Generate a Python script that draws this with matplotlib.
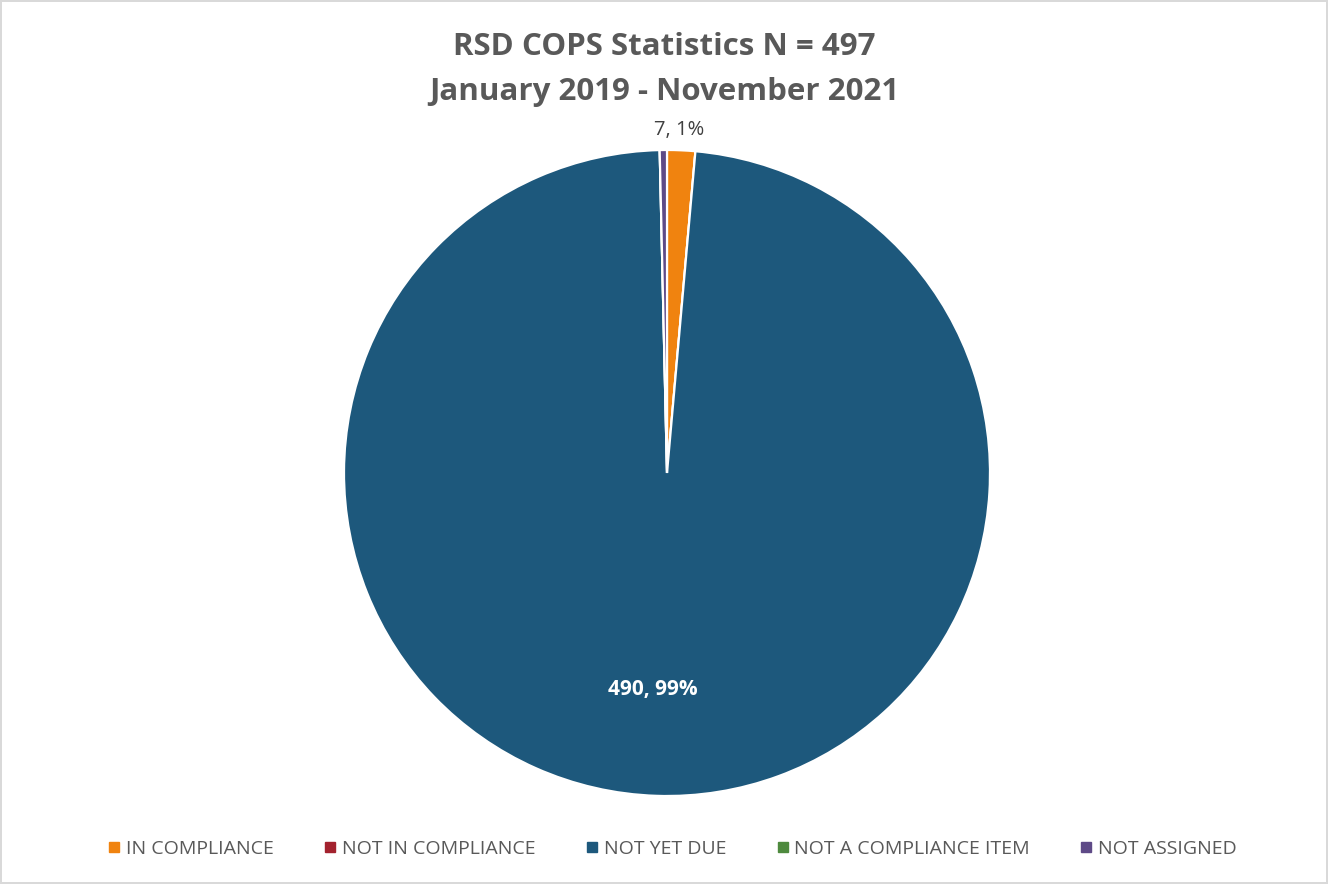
import numpy as np
import matplotlib.pyplot as plt
from matplotlib.lines import Line2D

# data
categories = ["IN COMPLIANCE", "NOT IN COMPLIANCE", "NOT YET DUE",
              "NOT A COMPLIANCE ITEM", "NOT ASSIGNED"]
counts = [7, 0, 490, 0, 1.8]
total_n = 497
shown_labels = [True, False, True, False, False]
colors = ["#F0830F", "#A3222E", "#1D587C", "#4E8A3E", "#5E4A87"]

plt.rcParams["font.family"] = ["Open Sans", "DejaVu Sans"]

fig = plt.figure(figsize=(13.28, 8.84), dpi=100)
fig.patch.set_edgecolor("#D9D9D9")
fig.patch.set_linewidth(1.5)

# pie axes: centre ~(667, 473) px, radius ~323 px
cx, cy, r = 667 / 1328, 1 - 473 / 884, 323
ax = fig.add_axes([cx - r / 1328, cy - r / 884, 2 * r / 1328, 2 * r / 884])

wedges, _ = ax.pie(
    counts,
    colors=colors,
    startangle=90,
    counterclock=False,
    radius=1.0,
    wedgeprops=dict(edgecolor="white", linewidth=1.6),
)
for w in wedges:
    w.set_clip_on(False)
ax.set_xlim(-1, 1)
ax.set_ylim(-1, 1)
ax.set_aspect("auto")
ax.axis("off")

# data labels
for i, (v, show) in enumerate(zip(counts, shown_labels)):
    if not show:
        continue
    pct = round(v / total_n * 100)
    txt = f"{v}, {pct}%"
    if categories[i] == "NOT YET DUE":
        ax.text(-0.045, -0.67, txt, ha="center", va="center",
                fontsize=15, fontweight="bold", color="white")
    else:
        fig.text(679 / 1328, 1 - 130 / 884, txt, ha="center", va="center",
                 fontsize=14.5, color="#404040")

fig.text(0.5, 1 - 47 / 884, "RSD COPS Statistics N = 497",
         ha="center", va="center", fontsize=22.5, fontweight="bold", color="#595959")
fig.text(0.5, 1 - 92 / 884, "January 2019 - November 2021",
         ha="center", va="center", fontsize=22.5, fontweight="bold", color="#595959")

handles = [Line2D([], [], marker="s", linestyle="none", markersize=6.5,
                  markerfacecolor=c, markeredgecolor=c) for c in colors]
fig.legend(handles, categories, loc="center", ncol=5,
           bbox_to_anchor=(0.505, 1 - 849 / 884), frameon=False,
           fontsize=14, labelcolor="#595959", handletextpad=0.1,
           columnspacing=2.4, handlelength=1.0)

fig.savefig("out.png", dpi=100)
